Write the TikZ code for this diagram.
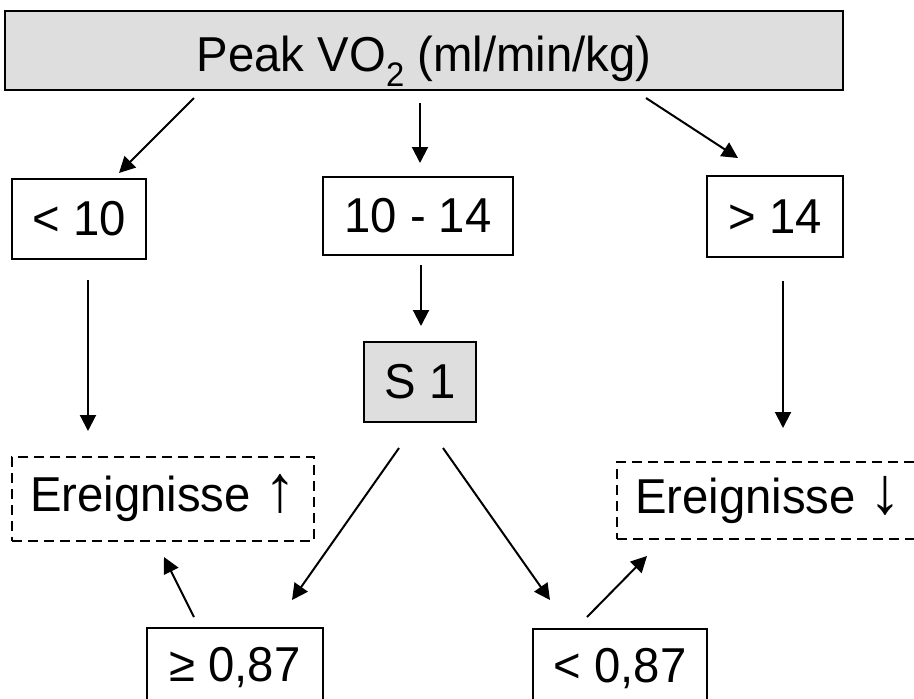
\documentclass[tikz,border=0pt]{standalone}
\usepackage{fontspec}
\setmainfont{Liberation Sans}[FakeStretch=0.965]
\usetikzlibrary{positioning,arrows.meta}

\definecolor{boxgrey}{HTML}{DEDEDE}
\tikzset{
    box/.style={draw,line width=1pt,inner sep=0pt,minimum height=40pt},
    grey/.style={fill=boxgrey},
    open/.style={draw,dash pattern=on 5pt off 3pt,line width=1pt,inner sep=0pt,minimum width=151pt},
    arr/.style={line width=1pt,-{Triangle[length=8pt,width=8pt]}}
}
\newcommand{\bigarrow}[1]{\smash{\fontsize{33pt}{33pt}\selectfont #1}}
\newcommand{\lowsub}[1]{\smash{\raisebox{-0.3em}{\fontsize{17pt}{17pt}\selectfont #1}}}

\begin{document}
\begin{tikzpicture}[font=\fontsize{24.5pt}{29pt}\selectfont]
    \clip (-212pt,25.25pt) rectangle (245pt,-323.75pt);
    \node[box,grey,minimum width=419pt,minimum height=39.5pt,text depth=0pt,text height=21pt] (peak) at (0,0) {Peak VO\lowsub{2} (ml/min/kg)};
    \node[box,minimum width=67pt] (low) [below=43.5pt of peak.south west,xshift=37.5pt] {< 10};
    \node[box,minimum width=95pt,minimum height=39pt] (mid) [below=42.5pt of peak,xshift=-3pt] {10 - 14};
    \node[box,minimum width=68pt,minimum height=40.5pt] (high) [below=42pt of peak.south east,xshift=-34.5pt] {> 14};
    \node[box,grey,minimum width=56pt] (s1) [below=42.5pt of mid,xshift=1pt] {S 1};
    \node[open,minimum height=42pt] (evup) [below=98pt of low,xshift=42pt] {Ereignisse \bigarrow{↑}};
    \node[open,minimum height=38.5pt] (evdn) [below=101.5pt of high,xshift=-3.5pt] {Ereignisse \bigarrow{↓}};
    \node[box,minimum width=87.5pt] (ge) [below=42.5pt of evup,xshift=36pt] {≥ 0,87};
    \node[box,minimum width=87pt] (lt87) [below=44pt of evdn,xshift=-74pt] {< 0,87};
    \path[arr]
    ([xshift=95pt,yshift=-3.5pt]peak.south west)  edge ([xshift=20pt,yshift=2.5pt]low.north)
    ([xshift=-2pt,yshift=-6pt]peak.south)         edge ([xshift=1pt,yshift=6.5pt]mid.north)
    ([xshift=-99pt,yshift=-3.5pt]peak.south east) edge ([xshift=-18.5pt,yshift=8.5pt]high.north)

    ([xshift=1.5pt,yshift=-4.5pt]mid.south)       edge ([xshift=0.5pt,yshift=7.5pt]s1.north)

    ([xshift=4.5pt,yshift=-10pt]low.south)        edge ([xshift=-37.5pt,yshift=12.5pt]evup.north)
    ([xshift=4pt,yshift=-11.5pt]high.south)       edge ([xshift=7.5pt,yshift=16.5pt]evdn.north)

    ([xshift=-10.5pt,yshift=-12.5pt]s1.south)     edge ([xshift=28.5pt,yshift=13.5pt]ge.north)
    ([xshift=11.5pt,yshift=-12.5pt]s1.south)      edge ([xshift=-35pt,yshift=14pt]lt87.north)

    ([xshift=-20.5pt,yshift=5pt]ge.north)         edge ([xshift=0.5pt,yshift=-7.5pt]evup.south)
    ([xshift=-16.5pt,yshift=5.5pt]lt87.north)     edge ([xshift=-60.5pt,yshift=-8pt]evdn.south)
    ;
\end{tikzpicture}
\end{document}
